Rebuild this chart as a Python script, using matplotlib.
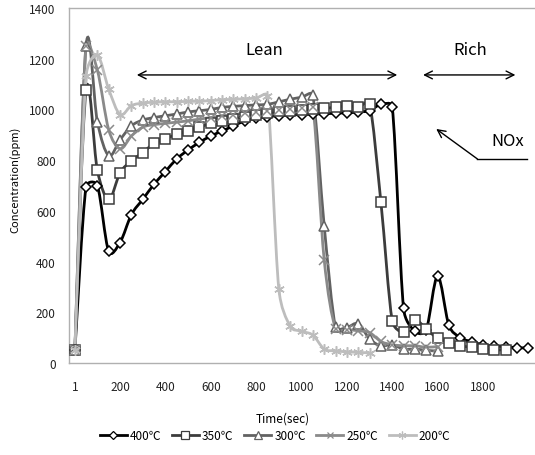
import numpy as np
import matplotlib
matplotlib.use("Agg")
import matplotlib.pyplot as plt
from matplotlib.path import Path
from matplotlib.patches import PathPatch
from matplotlib.lines import Line2D

plt.rcParams['font.family'] = ['Noto Sans CJK KR', 'DejaVu Sans']

# ---- data ----
time = [1, 50, 100, 150, 200, 250, 300, 350, 400, 450, 500, 550, 600, 650, 700,
        750, 800, 850, 900, 950, 1000, 1050, 1100, 1150, 1200, 1250, 1300, 1350,
        1400, 1450, 1500, 1550, 1600, 1650, 1700, 1750, 1800, 1850, 1900, 1950, 2000]

s400 = [50, 695, 700, 440, 475, 585, 645, 705, 755, 805, 840, 870, 895, 915, 935,
        955, 965, 972, 975, 978, 980, 982, 983, 985, 987, 990, 995, 1020, 1010,
        215, 125, 132, 342, 148, 100, 84, 72, 66, 65, 60, 60]
s350 = [50, 1075, 760, 645, 750, 797, 830, 866, 884, 902, 915, 930, 945, 955, 962,
        972, 980, 985, 992, 995, 998, 1000, 1005, 1008, 1015, 1010, 1022, 635,
        167, 122, 170, 134, 97, 80, 68, 62, 57, 52, 52]
s300 = [50, 1250, 952, 818, 880, 935, 958, 968, 975, 982, 990, 995, 1000, 1008,
        1012, 1015, 1018, 1020, 1030, 1040, 1048, 1055, 541, 142, 140, 155, 95, 68,
        72, 55, 55, 50, 47]
s250 = [50, 1250, 1155, 920, 845, 895, 930, 940, 945, 950, 955, 962, 968, 975, 980,
        985, 990, 995, 998, 1000, 1005, 1010, 407, 135, 132, 127, 120, 85, 72, 68,
        68, 62, 65]
s200 = [50, 1130, 1215, 1080, 980, 1015, 1025, 1028, 1030, 1030, 1032, 1032, 1035,
        1038, 1040, 1042, 1045, 1052, 292, 145, 125, 110, 55, 48, 44, 42, 40]

labels = ['400℃', '350℃', '300℃', '250℃', '200℃']
series = [s400, s350, s300, s250, s200]
colors = ['#000000', '#3c3c3c', '#626262', '#8a8a8a', '#bdbdbd']
markers = ['D', 's', '^', 'x', (6, 2, 0)]
msizes = [5, 7, 7, 6.5, 7.5]

xticks = [1, 200, 400, 600, 800, 1000, 1200, 1400, 1600, 1800]
yticks = [0, 200, 400, 600, 800, 1000, 1200, 1400]


def smooth_path(ax, x, y):
    """Excel-like smoothed line: Bezier segments built in display space."""
    pts = ax.transData.transform(np.column_stack([x, y]).astype(float))
    n = len(pts)
    verts = [pts[0]]
    codes = [Path.MOVETO]
    for i in range(n - 1):
        p0 = pts[max(i - 1, 0)]
        p1 = pts[i]
        p2 = pts[i + 1]
        p3 = pts[min(i + 2, n - 1)]
        seg = np.hypot(*(p2 - p1))
        a1 = (p2 - p0) / 6.0
        a2 = (p3 - p1) / 6.0
        for a in (a1, a2):
            ln = np.hypot(*a)
            lim = 0.5 * seg
            if ln > lim and ln > 0:
                a *= lim / ln
        verts += [p1 + a1, p2 - a2, p2]
        codes += [Path.CURVE4] * 3
    verts = ax.transData.inverted().transform(np.array(verts))
    return Path(verts, codes)


fig = plt.figure(figsize=(5.35, 4.56), dpi=100)
ax = fig.add_axes([69 / 535, 1 - 364 / 456, 465 / 535, 355 / 456])
ax.set_xlim(-25, 2025)
ax.set_ylim(0, 1400)

handles = []
for vals, lab, col, mk, ms in zip(series, labels, colors, markers, msizes):
    tx = time[:len(vals)]
    ax.add_patch(PathPatch(smooth_path(ax, tx, vals), facecolor='none',
                           edgecolor=col, lw=2.0, zorder=2))
    filled = mk in ('x', (6, 2, 0))
    ax.plot(tx, vals, linestyle='none', marker=mk, markersize=ms,
            markerfacecolor=col if filled else 'white',
            markeredgecolor=col, markeredgewidth=1.1, zorder=3)
    handles.append(Line2D([0], [0], color=col, lw=2.0, marker=mk,
                          markersize=ms * 0.75,
                          markerfacecolor=col if filled else 'white',
                          markeredgecolor=col, markeredgewidth=0.9))

ax.set_xticks(xticks)
ax.set_xticklabels([str(v) for v in xticks])
ax.set_yticks(yticks)
ax.tick_params(axis='both', length=0, labelsize=8.5, colors='#222222')
ax.tick_params(axis='y', pad=9.5)
ax.tick_params(axis='x', pad=12)

for side in ['left', 'top', 'bottom']:
    ax.spines[side].set_color('#b0b0b0')
    ax.spines[side].set_linewidth(1.0)
ax.spines['right'].set_visible(False)

ax.set_ylabel('Concentration(ppm)', fontsize=8)
ax.yaxis.set_label_coords(-0.105, 0.52)
ax.set_xlabel('Time(sec)', fontsize=8.5)
ax.xaxis.set_label_coords(0.46, -0.138)

# annotations
ax.text(834, 1235, 'Lean', fontsize=12, ha='center', va='center')
ax.annotate('', xy=(274, 1136), xytext=(1422, 1136),
            arrowprops=dict(arrowstyle='<->', lw=1.0, color='black',
                            shrinkA=0, shrinkB=0, mutation_scale=14))
ax.text(1744, 1235, 'Rich', fontsize=12, ha='center', va='center')
ax.annotate('', xy=(1536, 1136), xytext=(1943, 1136),
            arrowprops=dict(arrowstyle='<->', lw=1.0, color='black',
                            shrinkA=0, shrinkB=0, mutation_scale=14))
ax.text(1907, 876, 'NOx', fontsize=12, ha='center', va='center')
ax.plot([1996, 1775], [805, 805], color='black', lw=1.0)
ax.annotate('', xy=(1594, 923), xytext=(1775, 805),
            arrowprops=dict(arrowstyle='->', lw=1.0, color='black',
                            shrinkA=0, shrinkB=0, mutation_scale=14))

fig.legend(handles, labels, loc='center', bbox_to_anchor=(0.514, 0.042),
           ncol=5, frameon=False, fontsize=8.5, handlelength=2.3,
           handletextpad=0.25, columnspacing=0.9, numpoints=1)

fig.savefig('out.png', dpi=100)
